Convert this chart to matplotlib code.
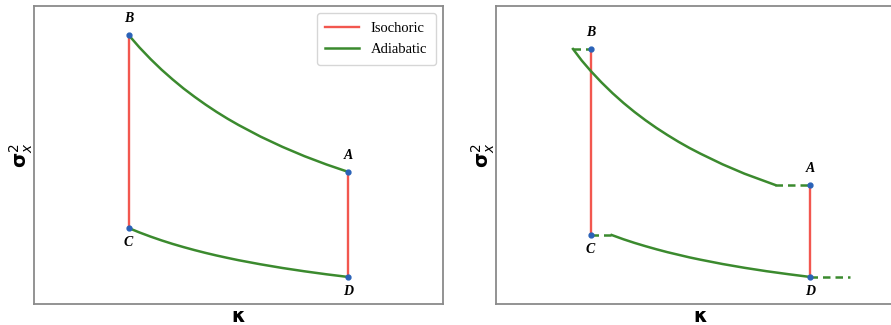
import matplotlib
matplotlib.use('Agg')
from matplotlib import pyplot as plt

# left panel: quasi-static cycle
kap_left = [1.0, 1.05, 1.1, 1.15, 1.2, 1.25, 1.3, 1.35, 1.4, 1.45, 1.5, 1.6, 1.7, 1.8, 1.9, 2.0]
top_left = [3.005, 2.879, 2.764, 2.658, 2.561, 2.470, 2.387, 2.309, 2.236, 2.168, 2.105,
            1.989, 1.886, 1.793, 1.710, 1.635]
bot_left = [1.075, 1.030, 0.989, 0.951, 0.916, 0.884, 0.854, 0.826, 0.800, 0.776, 0.753,
            0.712, 0.675, 0.642, 0.612, 0.585]
pts_left = {'A': (2.0, 1.635), 'B': (1.0, 3.005), 'C': (1.0, 1.075), 'D': (2.0, 0.585)}

# right panel: sudden jumps (dashed) + adiabats
kap_rt = [0.92, 0.96, 1.0, 1.05, 1.1, 1.15, 1.2, 1.25, 1.3, 1.35, 1.4, 1.45, 1.5, 1.6, 1.7, 1.84]
top_rt = [2.865, 2.749, 2.647, 2.530, 2.423, 2.325, 2.235, 2.152, 2.075, 2.004, 1.937, 1.875,
          1.818, 1.712, 1.618, 1.505]
kap_rb = [1.096, 1.15, 1.2, 1.25, 1.3, 1.35, 1.4, 1.45, 1.5, 1.6, 1.7, 1.8, 1.9, 2.0]
bot_rb = [1.005, 0.962, 0.926, 0.893, 0.862, 0.833, 0.807, 0.781, 0.758, 0.715, 0.677,
          0.643, 0.613, 0.585]
pts_right = {'A': (2.0, 1.505), 'B': (1.0, 2.865), 'C': (1.0, 1.005), 'D': (2.0, 0.585)}
jumps_right = [([0.918, 1.0], [2.865, 2.865]),
               ([1.84, 2.0], [1.505, 1.505]),
               ([1.0, 1.096], [1.005, 1.005]),
               ([2.0, 2.18], [0.585, 0.585])]

RED = '#f2574f'
GREEN = '#3b8a2e'
BLUE = '#2a62b8'
serif = {'family': 'Liberation Serif', 'style': 'italic', 'weight': 'bold', 'size': 10}


def style_axes(ax):
    ax.set_xlim(0.57, 2.43)
    ax.set_ylim(0.315, 3.295)
    ax.set_xticks([])
    ax.set_yticks([])
    for s in ax.spines.values():
        s.set_color('#8a8a8a')
        s.set_linewidth(1.3)
    ax.set_xlabel(r'$\mathbf{\kappa}$', fontsize=14, labelpad=2)
    ax.set_ylabel(r'$\mathbf{\sigma}_x^2$', fontsize=14, labelpad=-1)


def label_points(ax, pts):
    for name, (x, y) in pts.items():
        ax.plot(x, y, 'o', color=BLUE, ms=3.5, zorder=5)
        if name in ('A', 'B'):
            ax.annotate(name, (x, y), xytext=(0, 7), textcoords='offset points',
                        ha='center', va='bottom', **serif)
        else:
            ax.annotate(name, (x, y), xytext=(0, -6), textcoords='offset points',
                        ha='center', va='top', **serif)


fig = plt.figure(figsize=(8.91, 3.25), dpi=100)
ax1 = fig.add_axes([0.0382, 0.0646, 0.459, 0.917])
ax2 = fig.add_axes([0.5567, 0.0646, 0.459, 0.917])

ax1.plot([1.0, 1.0], [pts_left['C'][1], pts_left['B'][1]], color=RED, lw=1.7, label='Isochoric')
ax1.plot([2.0, 2.0], [pts_left['D'][1], pts_left['A'][1]], color=RED, lw=1.7)
ax1.plot(kap_left, top_left, color=GREEN, lw=1.8, label='Adiabatic')
ax1.plot(kap_left, bot_left, color=GREEN, lw=1.8)
label_points(ax1, pts_left)
style_axes(ax1)
ax1.legend(loc='upper right', prop={'family': 'Liberation Serif', 'size': 10.5},
           handlelength=2.3, borderpad=0.6, labelspacing=0.55)

ax2.plot([1.0, 1.0], [pts_right['C'][1], pts_right['B'][1]], color=RED, lw=1.7)
ax2.plot([2.0, 2.0], [pts_right['D'][1], pts_right['A'][1]], color=RED, lw=1.7)
ax2.plot(kap_rt, top_rt, color=GREEN, lw=1.8)
ax2.plot(kap_rb, bot_rb, color=GREEN, lw=1.8)
for xs, ys in jumps_right:
    ax2.plot(xs, ys, color=GREEN, lw=1.8, ls=(0, (3, 2)))
label_points(ax2, pts_right)
style_axes(ax2)

plt.savefig('out.png', dpi=100)
plt.close()
